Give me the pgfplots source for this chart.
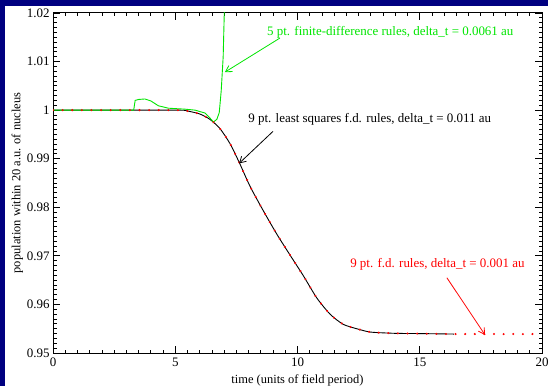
\documentclass[border=0pt]{standalone}
\usepackage{pgfplots}
\pgfplotsset{compat=1.18}
\usepackage{fontspec}
\setmainfont{Liberation Serif}
\usetikzlibrary{arrows.meta}
\definecolor{navyc}{RGB}{0,0,128}
\definecolor{grn}{RGB}{0,230,0}
\definecolor{rd}{RGB}{255,0,0}
\begin{document}
\begin{tikzpicture}[x=1bp,y=1bp]
\useasboundingbox (0,0) rectangle (548,386);
\fill[white] (0,0) rectangle (548,386);
\fill[navyc] (0,0) rectangle (5,386);
\fill[navyc] (0,380) rectangle (548,386);
\begin{axis}[
  at={(53bp,33bp)}, anchor=south west,
  scale only axis, width=489bp, height=340bp,
  xmin=0, xmax=20, ymin=0.95, ymax=1.02,
  xtick={0,5,10,15,20},
  minor x tick num=9,
  ytick={0.95,0.96,0.97,0.98,0.99,1,1.01,1.02},
  yticklabels={0.95,0.96,0.97,0.98,0.99,1,1.01,1.02},
  minor y tick num=9,
  tick align=inside,
  major tick length=7bp, minor tick length=3.5bp,
  axis line style={line width=1bp},
  every tick/.style={black, line width=0.8bp},
  tick label style={font=\fontsize{13}{15}\selectfont},
  /pgf/number format/assume math mode=true,
  xticklabel style={yshift=-1bp},
  label style={font=\fontsize{12.5}{14}\selectfont},
  xlabel={time (units of field period)},
  ylabel={population within 20 a.u. of nucleus},
  xlabel style={yshift=-2bp},
  ylabel style={yshift=-3bp},
  clip=true,
]
\addplot[black, line width=0.9bp, smooth, tension=0.4] coordinates {
(0,1.0) (5.0,1.0) (5.47,0.99985) (6.01,0.9992) (6.42,0.9981) (6.83,0.9962)
(7.24,0.9931) (7.62,0.9892) (8.06,0.9843) (8.6,0.9793) (9.15,0.9745)
(9.69,0.9702) (10.24,0.9659) (10.78,0.9614) (11.33,0.9580) (11.87,0.9559)
(12.49,0.9549) (13.0,0.9543) (14.0,0.95405) (15.0,0.9540) (16.4,0.9539)
};
\addplot[grn, line width=0.9bp] coordinates {
(0,1.0) (3.30,1.0) (3.36,1.0020) (3.5,1.0022) (3.76,1.0023) (4.0,1.0019)
(4.31,1.0009) (4.72,1.0004) (5.4,1.0002) (5.81,1.0000) (6.22,0.9994)
(6.40,0.9985) (6.56,0.99755) (6.70,0.9981) (6.80,0.9995) (6.88,1.004)
(6.96,1.011) (7.03,1.025)
};
\addplot[rd, line width=2.3bp, line cap=round, dash pattern=on 0.01bp off 9.6bp, smooth, tension=0.4] coordinates {
(0,1.0) (5.0,1.0) (5.47,0.99985) (6.01,0.9992) (6.42,0.9981) (6.83,0.9962)
(7.24,0.9931) (7.62,0.9892) (8.06,0.9843) (8.6,0.9793) (9.15,0.9745)
(9.69,0.9702) (10.24,0.9659) (10.78,0.9614) (11.33,0.9580) (11.87,0.9559)
(12.49,0.9549) (13.0,0.9543) (14.0,0.95405) (15.0,0.9540) (16.4,0.9539)
(18,0.9539) (20,0.9539)
};
\node[anchor=west, text=grn, inner sep=0, font=\fontsize{13}{15}\selectfont] at (axis cs:8.75,1.01608) {5 pt. finite-difference rules, delta\_t = 0.0061 au};
\draw[grn, line width=0.8bp, -{Straight Barb[length=6bp,width=7bp]}] (axis cs:9.28,1.01484) -- (axis cs:7.03,1.00782);
\node[anchor=west, text=black, inner sep=0, font=\fontsize{13}{15}\selectfont] at (axis cs:7.98,0.99811) {9 pt. least squares f.d. rules, delta\_t = 0.011 au};
\draw[black, line width=0.8bp, -{Straight Barb[length=6bp,width=7bp]}] (axis cs:9.0,0.99564) -- (axis cs:7.61,0.98903);
\node[anchor=west, text=rd, inner sep=0, font=\fontsize{13}{15}\selectfont] at (axis cs:12.15,0.96817) {9 pt. f.d. rules, delta\_t = 0.001 au};
\draw[rd, line width=0.8bp, -{Straight Barb[length=6bp,width=7bp]}] (axis cs:16.11,0.96549) -- (axis cs:17.67,0.95372);
\end{axis}
\end{tikzpicture}
\end{document}
